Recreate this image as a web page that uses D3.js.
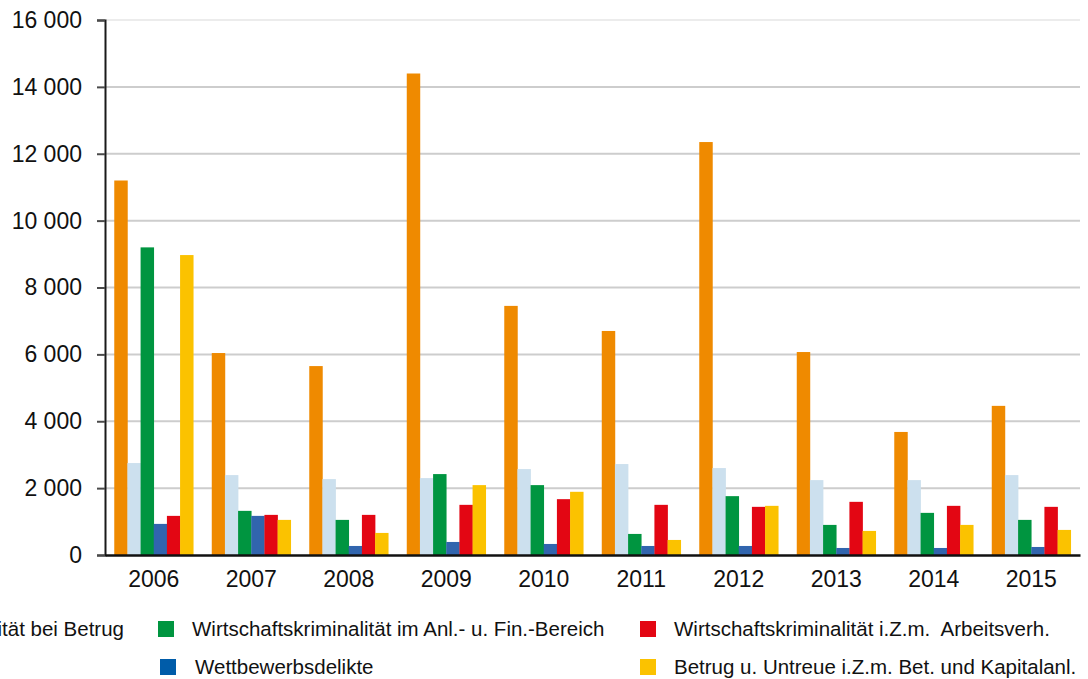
<!DOCTYPE html>
<html lang="de">
<head>
<meta charset="utf-8">
<script src="https://cdn.jsdelivr.net/npm/d3@7"></script>
<style>
  html, body { margin: 0; padding: 0; background: #fff; }
  svg { display: block; font-family: "Liberation Sans", Arial, sans-serif; }
  .legend text { white-space: pre; }
</style>
</head>
<body>
<svg id="chart" width="1088" height="679"></svg>
<script>
// Fälle je Deliktsbereich der Wirtschaftskriminalität, 2006–2015
const years = ["2006", "2007", "2008", "2009", "2010", "2011", "2012", "2013", "2014", "2015"];

const seriesNames = [
  "Wirtschaftskriminalität bei Betrug",
  "Insolvenzdelikte",
  "Wirtschaftskriminalität im Anl.- u. Fin.-Bereich",
  "Wettbewerbsdelikte",
  "Wirtschaftskriminalität i.Z.m.  Arbeitsverh.",
  "Betrug u. Untreue i.Z.m. Bet. und Kapitalanl."
];

const seriesColors = ["#ef8a00", "#cce0ee", "#009540", "#3165ae", "#e30613", "#fbc200"];

const betrug        = [11200, 6040, 5650, 14400, 7450, 6700, 12350, 6070, 3680, 4460];
const insolvenz     = [2750, 2390, 2270, 2300, 2570, 2720, 2600, 2240, 2240, 2390];
const anlageFinanz  = [9200, 1320, 1050, 2420, 2090, 630, 1760, 900, 1260, 1050];
const wettbewerb    = [930, 1170, 270, 390, 330, 270, 270, 210, 210, 240];
const arbeit        = [1170, 1200, 1200, 1500, 1670, 1500, 1440, 1590, 1470, 1440];
const kapitalanlage = [8970, 1050, 660, 2090, 1890, 450, 1470, 720, 900, 750];

const yTicks = [0, 2000, 4000, 6000, 8000, 10000, 12000, 14000, 16000];

const seriesValues = [betrug, insolvenz, anlageFinanz, wettbewerb, arbeit, kapitalanlage];

const svg = d3.select("#chart");
const plot = { left: 105, right: 1080, top: 20, bottom: 555 };

const locale = d3.formatLocale({ decimal: ",", thousands: " ", grouping: [3], currency: ["", " €"] });
const fmt = locale.format(",d");

const x0 = d3.scaleBand()
  .domain(years)
  .range([plot.left, plot.right])
  .paddingInner(0.19)
  .paddingOuter(0.095);

const x1 = d3.scaleBand()
  .domain(d3.range(seriesNames.length))
  .range([0, x0.bandwidth()])
  .padding(0);

const y = d3.scaleLinear()
  .domain([0, 16000])
  .range([plot.bottom, plot.top]);

// horizontal grid lines
svg.append("g")
  .selectAll("line")
  .data(yTicks.filter(d => d > 0))
  .join("line")
  .attr("x1", plot.left)
  .attr("x2", plot.right)
  .attr("y1", d => y(d))
  .attr("y2", d => y(d))
  .attr("stroke", d => d === 16000 ? "#ececec" : "#cdcdcd")
  .attr("stroke-width", 2);

// bars
const groups = svg.append("g")
  .selectAll("g")
  .data(years)
  .join("g")
  .attr("transform", d => `translate(${x0(d)},0)`);

groups.selectAll("rect")
  .data((yr, i) => seriesValues.map((vals, s) => ({ s, v: vals[i] })))
  .join("rect")
  .attr("x", d => x1(d.s))
  .attr("width", x1.bandwidth() + 0.3)
  .attr("y", d => y(d.v))
  .attr("height", d => y(0) - y(d.v))
  .attr("fill", d => seriesColors[d.s]);

// y axis
const yAxis = svg.append("g")
  .attr("transform", `translate(${plot.left},0)`)
  .call(d3.axisLeft(y).tickValues(yTicks).tickFormat(fmt).tickSize(8).tickPadding(15));
yAxis.select(".domain").attr("stroke", "#1a1a1a").attr("stroke-width", 2);
yAxis.selectAll(".tick line").attr("stroke", "#4a4a4a").attr("stroke-width", 2);
yAxis.selectAll(".tick text")
  .attr("font-size", 23)
  .attr("fill", "#111")
  .attr("font-family", "Liberation Sans, Arial, sans-serif");

// x axis
const xAxis = svg.append("g")
  .attr("transform", `translate(0,${plot.bottom})`)
  .call(d3.axisBottom(x0).tickSize(0).tickPadding(16));
xAxis.select(".domain").attr("stroke", "#111").attr("stroke-width", 2.5);
xAxis.selectAll(".tick text")
  .attr("font-size", 23)
  .attr("fill", "#111")
  .attr("font-family", "Liberation Sans, Arial, sans-serif");

// legend: three columns, two rows
const legendCols = [-324, 158, 640];
const legendRows = [621, 659];
const legendPos = [
  [0, 0], [0, 1],
  [1, 0], [1, 1],
  [2, 0], [2, 1]
];
const legend = svg.append("g").attr("class", "legend")
  .selectAll("g")
  .data(seriesNames)
  .join("g")
  .attr("transform", (d, i) => `translate(${legendCols[legendPos[i][0]] + (i === 3 ? 2 : 0)},${legendRows[legendPos[i][1]]})`);

legend.append("rect")
  .attr("width", 16)
  .attr("height", 16)
  .attr("fill", (d, i) => i === 3 ? "#005ca9" : seriesColors[i]);

legend.append("text")
  .attr("x", (d, i) => i === 3 ? 35 : 34)
  .attr("y", 8)
  .attr("dy", "0.35em")
  .attr("font-size", 20.5)
  .attr("fill", "#111")
  .text(d => d);

// first column label is right-aligned against the green column
legend.filter((d, i) => i === 0).select("text")
  .attr("text-anchor", "end")
  .attr("x", 124 - legendCols[0]);
legend.filter((d, i) => i === 0).select("rect")
  .attr("x", function () {
    const w = this.parentNode.querySelector("text").getComputedTextLength();
    return 124 - legendCols[0] - w - 34;
  });
</script>
</body>
</html>
